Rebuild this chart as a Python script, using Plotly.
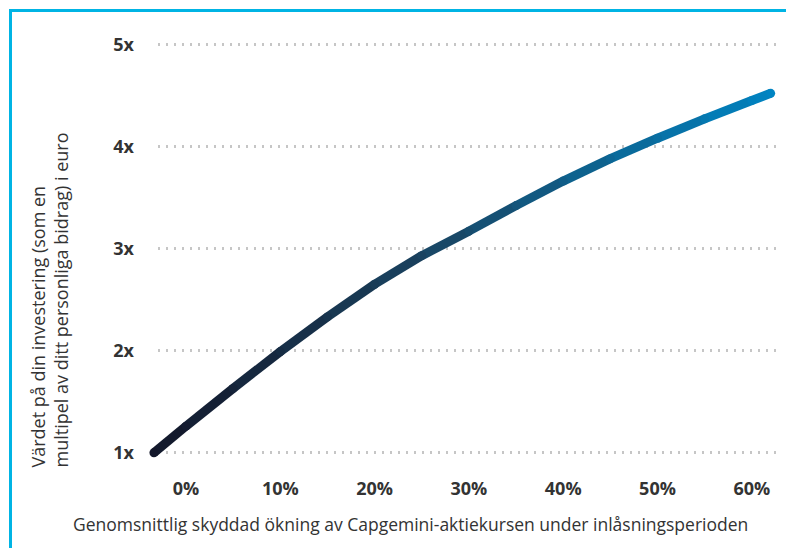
import plotly.graph_objects as go

# ---- data ----
growth_pct = [-3.4, 0, 5, 10, 15, 20, 25, 30, 35, 40, 45, 50, 55, 60, 62]
value_multiple = [1.00, 1.26, 1.63, 1.99, 2.33, 2.65, 2.93, 3.17, 3.42, 3.66, 3.88, 4.08, 4.27, 4.45, 4.52]

x_tickvals = [0, 10, 20, 30, 40, 50, 60]
x_ticktext = ["0%", "10%", "20%", "30%", "40%", "50%", "60%"]
y_tickvals = [1, 2, 3, 4, 5]
y_ticktext = ["1x", "2x", "3x", "4x", "5x"]

x_title = "Genomsnittlig skyddad ökning av Capgemini-aktiekursen under inlåsningsperioden"
y_title = "Värdet på din investering (som en<br>multipel av ditt personliga bidrag) i euro"

# ---- styling helpers ----
OFF = 8  # default page body margin
W, H = 794 - OFF, 548 - OFF
FONT = "Open Sans"
TXT = "#333333"
stops = [(0.0, (19, 23, 42)), (0.45, (26, 69, 99)), (1.0, (0, 132, 194))]


def grad(t):
    t = max(0.0, min(1.0, t))
    for (t0, c0), (t1, c1) in zip(stops[:-1], stops[1:]):
        if t <= t1:
            f = (t - t0) / (t1 - t0) if t1 > t0 else 0
            c = [round(a + (b - a) * f) for a, b in zip(c0, c1)]
            return "rgb(%d,%d,%d)" % tuple(c)
    return "rgb(%d,%d,%d)" % stops[-1][1]


def px_x(p):
    return (p - OFF) / W


def px_y(p):
    return 1 - (p - OFF) / H


# pixel mapping: 0% at x=186px, 10% per 94.3px ; 1x at y=452.7px, 102.1px per unit
x_lo, x_hi = 140, 790
xr = [(x_lo - 186) / 9.43, (x_hi - 186) / 9.43]
y_top, y_bot = 30, 470
yr = [1 + (452.7 - y_bot) / 102.1, 1 + (452.7 - y_top) / 102.1]
ydom = [px_y(y_bot), px_y(y_top)]

LW = 9
xmin, xmax = growth_pct[0], growth_pct[-1]
fig = go.Figure()

# empty trace to hold the grid axes (base subplot, drawn underneath)
fig.add_trace(go.Scatter(x=[], y=[], xaxis="x", yaxis="y", showlegend=False))

# gradient line built from consecutive segments (overlay subplot)
for i in range(len(growth_pct) - 1):
    xm = (growth_pct[i] + growth_pct[i + 1]) / 2
    t = (xm - xmin) / (xmax - xmin)
    fig.add_trace(go.Scatter(
        x=growth_pct[i:i + 2], y=value_multiple[i:i + 2], mode="lines",
        line=dict(color=grad(t), width=LW),
        hoverinfo="skip", showlegend=False, xaxis="x2", yaxis="y2",
    ))

# round joins / caps
fig.add_trace(go.Scatter(
    x=growth_pct, y=value_multiple, mode="markers",
    marker=dict(size=LW, color=[grad((v - xmin) / (xmax - xmin)) for v in growth_pct],
                line=dict(width=0)),
    hoverinfo="skip", showlegend=False, xaxis="x2", yaxis="y2", cliponaxis=False,
))

fig.update_layout(
    width=W, height=H,
    margin=dict(l=0, r=0, t=0, b=0),
    paper_bgcolor="white", plot_bgcolor="rgba(0,0,0,0)",
    font=dict(family=FONT, color=TXT),
    # base: gridlines + y tick labels
    xaxis=dict(
        domain=[px_x(158), px_x(778)], range=[0, 1], anchor="y",
        showgrid=False, zeroline=False, showline=False, showticklabels=False,
    ),
    yaxis=dict(
        domain=ydom, range=yr, anchor="x",
        showgrid=True, gridcolor="#c6c6c6", gridwidth=2.5, griddash="2px,6px",
        zeroline=False, showline=False,
        tickvals=y_tickvals, ticktext=y_ticktext,
        tickfont=dict(family=FONT, size=18, color=TXT, weight="bold"),
        ticks="", ticklabelstandoff=23,
    ),
    # overlay: data + x tick labels
    xaxis2=dict(
        domain=[px_x(x_lo), px_x(x_hi)], range=xr, anchor="y2",
        showgrid=False, zeroline=False, showline=False,
        tickvals=x_tickvals, ticktext=x_ticktext,
        tickfont=dict(family=FONT, size=18, color=TXT, weight="bold"),
        ticks="", ticklabelstandoff=6,
    ),
    yaxis2=dict(
        domain=ydom, range=yr, anchor="x2", overlaying="y",
        showgrid=False, zeroline=False, showline=False, showticklabels=False,
    ),
    annotations=[
        dict(text=x_title, x=px_x(411), y=px_y(524), xref="paper", yref="paper",
             xanchor="center", yanchor="middle", showarrow=False,
             font=dict(family=FONT, size=17.5, color=TXT)),
        dict(text=y_title, x=px_x(49), y=px_y(470), xref="paper", yref="paper",
             xanchor="center", yanchor="bottom", showarrow=False, textangle=-90,
             align="left", font=dict(family=FONT, size=18, color=TXT)),
    ],
    shapes=[
        dict(type="path", xref="paper", yref="paper",
             path=f"M {px_x(10.5)} 0 L {px_x(10.5)} {px_y(10.5)} L 1 {px_y(10.5)}",
             line=dict(color="#00b4e4", width=3)),
    ],
)

fig.write_html("out.html")
